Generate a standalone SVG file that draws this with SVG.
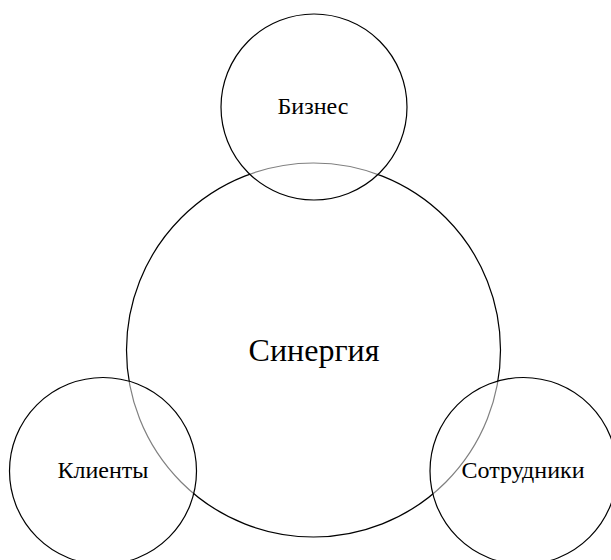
<svg xmlns="http://www.w3.org/2000/svg" width="611" height="560" viewBox="0 0 611 560">
<style>
.c{stroke:#000;stroke-width:1.2}
.big{fill:#fff}
.small{fill:#fff;fill-opacity:0.5}
text{font-family:"Liberation Serif","Times New Roman",serif;fill:#000;text-anchor:middle}
.t1{font-size:32px}
.t2{font-size:24px}
</style>
<rect width="611" height="560" fill="#fff"/>
<g id="synergy"><circle class="c big" cx="313.5" cy="350" r="187"/><text class="t1" x="314" y="361">Синергия</text></g>
<g id="business"><circle class="c small" cx="314" cy="107" r="93"/><text class="t2" x="313" y="114">Бизнес</text></g>
<g id="clients"><circle class="c small" cx="103" cy="471" r="93.5"/><text class="t2" x="103" y="478">Клиенты</text></g>
<g id="employees"><circle class="c small" cx="523.5" cy="471" r="93.5"/><text class="t2" x="523" y="478">Сотрудники</text></g>
<g id="connectors"/>
</svg>
